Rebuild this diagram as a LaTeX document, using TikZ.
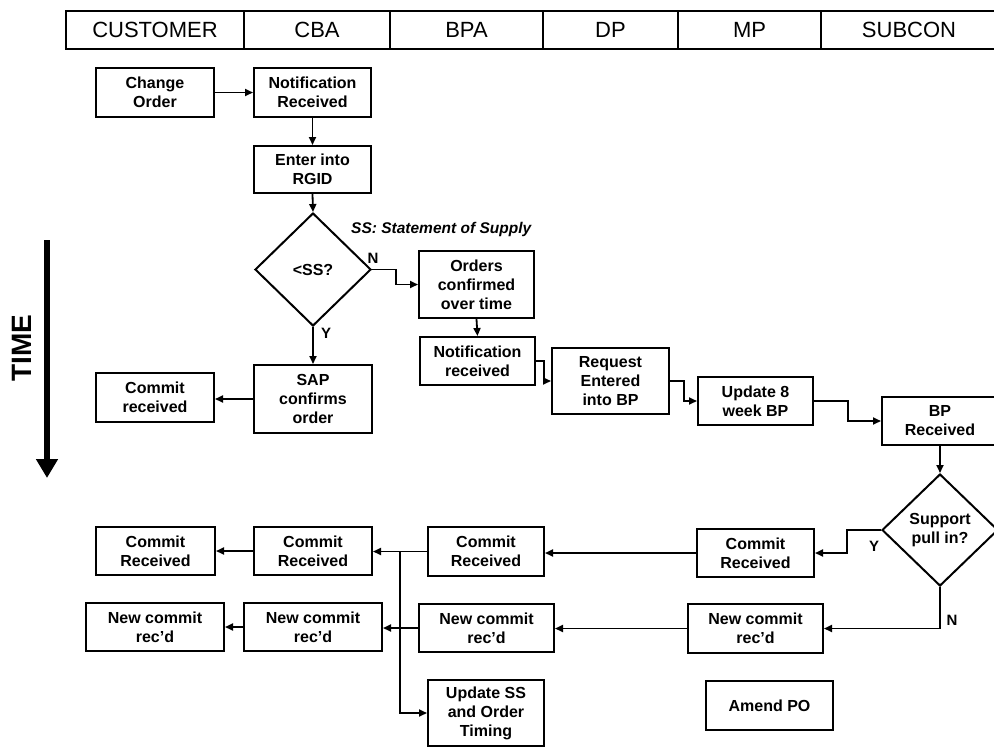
\documentclass[tikz,border=0pt]{standalone}
\usepackage{fontspec}
\setmainfont{Liberation Sans}
\usetikzlibrary{arrows.meta,shapes.geometric}
\begin{document}
\begin{tikzpicture}[x=1pt,y=-1pt,
  box/.style={draw, line width=2pt, rectangle, align=center, inner sep=0pt,
    font=\bfseries\fontsize{16}{19}\selectfont},
  decision/.style={draw, line width=2pt, diamond, align=center, inner sep=0pt,
    font=\bfseries\fontsize{16}{19}\selectfont},
  lane/.style={draw, line width=2pt, rectangle, inner sep=0pt, minimum height=38pt,
    font=\fontsize{22}{26}\selectfont},
  conn/.style={line width=1.8pt, -{Triangle[length=8pt,width=7pt]}},
  flag/.style={font=\bfseries\fontsize{15}{17}\selectfont, inner sep=0pt},
]
\useasboundingbox (0,0) rectangle (994,748);

% swim-lane header
\node[lane, minimum width=178pt] (lcust) at (155,30)   {CUSTOMER};
\node[lane, minimum width=146pt] (lcba)  at (317,30)   {CBA};
\node[lane, minimum width=153pt] (lbpa)  at (466.5,30) {BPA};
\node[lane, minimum width=135pt] (ldp)   at (610.5,30) {DP};
\node[lane, minimum width=143pt] (lmp)   at (749.5,30) {MP};
\node[lane, minimum width=176pt] (lsub)  at (909,30)   {SUBCON};

% time axis
\coordinate (tTop) at (47,240);
\coordinate (tEnd) at (47,478);
\draw[line width=5.5pt, -{Triangle[length=19pt,width=21pt]}] (tTop) -- (tEnd);
\node[rotate=90, inner sep=0pt, font=\bfseries\fontsize{28}{30}\selectfont] (time) at (22,348) {TIME};

% upper flow
\node[box, minimum width=118pt, minimum height=49pt] (chg)    at (155,92.5)   {Change\\Order};
\node[box, minimum width=117pt, minimum height=49pt] (notif)  at (312.5,92.5) {Notification\\Received};
\node[box, minimum width=117pt, minimum height=47pt] (rgid)   at (312.5,169.5){Enter into\\RGID};
\node[decision, minimum width=116pt, minimum height=113pt] (dia1) at (313,269.5) {<SS?};
\node[anchor=base west, inner sep=0pt, font=\bfseries\itshape\fontsize{15.5}{18}\selectfont]
  (ssnote) at (351,233) {SS: Statement of Supply};
\node[box, minimum width=115pt, minimum height=67pt] (orders) at (476.5,284.5){Orders\\confirmed\\over time};
\node[box, minimum width=115pt, minimum height=48pt] (notif2) at (477.5,361)  {Notification\\received};
\node[box, minimum width=117pt, minimum height=66pt] (req)    at (610.5,381)  {Request\\Entered\\into BP};
\node[box, minimum width=115pt, minimum height=48pt] (upd)    at (755.5,401)  {Update 8\\week BP};
\node[box, minimum width=116pt, minimum height=48pt] (bprec)  at (940,421)    {BP\\Received};
\node[decision, minimum width=116pt, minimum height=112pt] (dia2) at (940,530) {Support\\pull in?};
\node[box, minimum width=118pt, minimum height=49pt] (commitc) at (155,397.5) {Commit\\received};
\node[box, minimum width=118pt, minimum height=68pt] (sap)    at (313,399)    {SAP\\confirms\\order};

% lower flow
\node[box, minimum width=119pt, minimum height=48pt] (cr1) at (155.5,551) {Commit\\Received};
\node[box, minimum width=118pt, minimum height=48pt] (cr2) at (313,551)   {Commit\\Received};
\node[box, minimum width=116pt, minimum height=49pt] (cr3) at (486,551.5) {Commit\\Received};
\node[box, minimum width=117pt, minimum height=48pt] (cr4) at (755.5,553) {Commit\\Received};
\node[box, minimum width=138pt, minimum height=48pt] (nc1) at (155,627)   {New commit\\rec'd};
\node[box, minimum width=138pt, minimum height=48pt] (nc2) at (313,627)   {New commit\\rec'd};
\node[box, minimum width=135pt, minimum height=48pt] (nc3) at (486.5,628) {New commit\\rec'd};
\node[box, minimum width=135pt, minimum height=49pt] (nc4) at (755.5,628.5){New commit\\rec'd};
\node[box, minimum width=116pt, minimum height=66pt] (upss) at (486,713)  {Update SS\\and Order\\Timing};
\node[box, minimum width=127pt, minimum height=49pt] (amend) at (769.5,705.5) {Amend PO};

% branch labels
\node[flag] (n1) at (373,258) {N};
\node[flag] (y1) at (326,333) {Y};
\node[flag] (y2) at (874,546) {Y};
\node[flag] (n2) at (952,620) {N};

% connectors
\draw[conn] (chg.east) -- (notif.west);
\draw[conn] (notif.south) -- (rgid.north);
\draw[conn] (rgid.south) -- (dia1.north);
\draw[conn] (dia1.east) -- ++(24,0) |- (orders.west);
\draw[conn] (dia1.south) -- (sap.north);
\draw[conn] (sap.west) -- (commitc.east |- sap.west);
\draw[conn] (orders.south) -- (notif2.north);
\draw[conn] (notif2.east) -- ++(8,0) |- (req.west);
\draw[conn] (req.east) -- ++(14,0) |- (upd.west);
\draw[conn] (upd.east) -- ++(34,0) |- (bprec.west);
\draw[conn] (bprec.south) -- (dia2.north);
\draw[conn] (dia2.west) -- ++(-34,0) |- (cr4.east);
\draw[conn] (dia2.south) |- (nc4.east);
\draw[conn] (cr4.west) -- (cr3.east |- cr4.west);
\draw[conn] (nc4.west) -- (nc3.east |- nc4.west);
\draw[conn] (cr3.west) -- (cr2.east |- cr3.west);
\coordinate (split) at (400,552);
\draw[conn] (split) |- (upss.west);
\draw[conn] (nc3.west) -- (nc2.east |- nc3.west);
\draw[conn] (cr2.west) -- (cr1.east);
\draw[conn] (nc2.west) -- (nc1.east);
\end{tikzpicture}
\end{document}
